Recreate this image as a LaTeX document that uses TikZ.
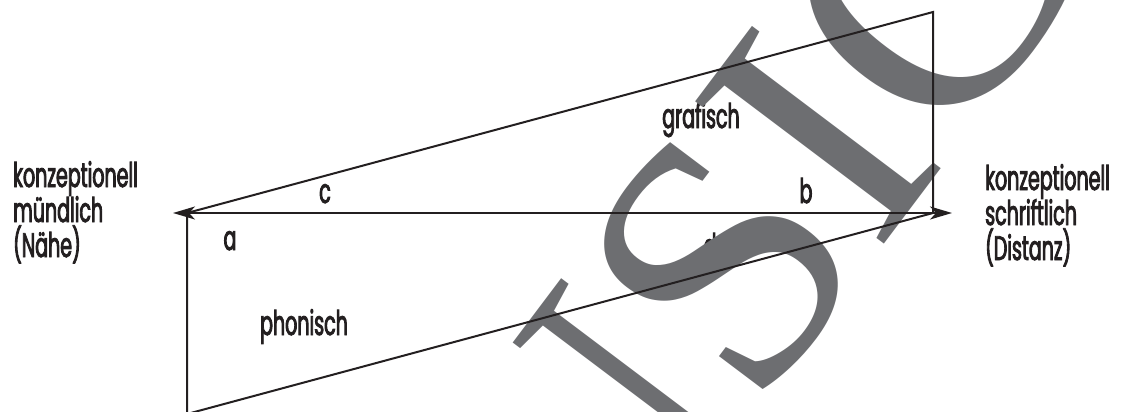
\documentclass[tikz,border=0pt]{standalone}
\usepackage{fontspec}
\usetikzlibrary{arrows.meta}
\newfontfamily\labfont[FakeStretch=0.56,FakeBold=2.5]{Poppins}
\newfontfamily\wmfont{Liberation Serif}
\definecolor{ink}{HTML}{231F20}
\definecolor{wmgray}{HTML}{6D6E71}
\begin{document}
\begin{tikzpicture}[x=1pt,y=-1pt,
  lab/.style={font=\labfont\fontsize{34}{35}\selectfont, text=ink, inner sep=0pt, anchor=base},
  side/.style={lab, align=left, anchor=base west},
  edge/.style={draw=ink, line width=2pt, line join=miter},
  axis/.style={edge, {Stealth[length=22pt,width=13pt,inset=6pt]}-{Stealth[length=22pt,width=13pt,inset=6pt]}},
  wm/.style={font=\wmfont\fontsize{361}{361}\selectfont, text=wmgray, inner sep=0pt, rotate=53, anchor=base west}]
\useasboundingbox (0,0) rectangle (1121,412);
\begin{scope}
\clip (0,0) rectangle (1121,412);
\coordinate (tl) at (187,213);
\coordinate (tr) at (933,12);
\coordinate (br) at (933,213);
\coordinate (bl) at (187,414);
\coordinate (axl) at (173,213);
\coordinate (axr) at (952,213);
% multi-line nodes: base anchor sits on the last line
\node[side] (left) at (13,257) {konzeptionell\\mündlich\\(Nähe)};
\node[side] (right) at (985,260) {konzeptionell\\schriftlich\\(Distanz)};
\node[lab] (c) at (325,203) {c};
\node[lab] (b) at (806,203) {b};
\node[lab] (a) at (230,250) {a};
\node[lab] (d) at (710,258) {d};
\node[lab] (graf) at (701,128) {grafisch};
\node[lab] (phon) at (304,335) {phonisch};
\node[wm] (wm) at (442,831) {ANSICHT};
\draw[edge] (tl) -- (tr) -- (br) -- (bl) -- cycle;
\draw[axis] (axl) -- (axr);
\end{scope}
\end{tikzpicture}
\end{document}
